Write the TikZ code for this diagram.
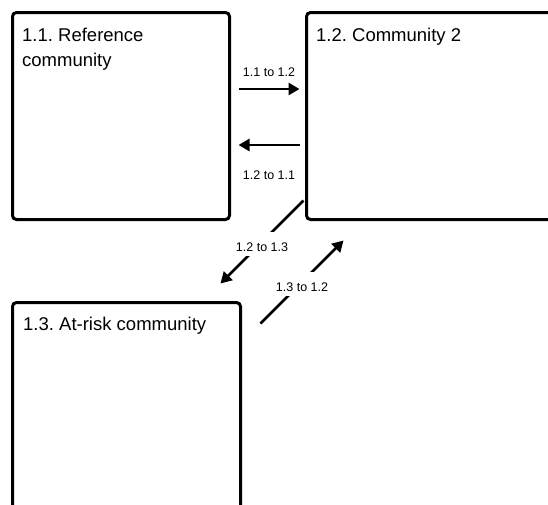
\documentclass[tikz,border=0pt]{standalone}
\usepackage{fontspec}
\setmainfont{Liberation Sans}
\usetikzlibrary{arrows.meta}
\frenchspacing
\tikzset{
	community/.style={shape=rectangle, draw=black, line width=3pt, rounded corners=4pt},
	title/.style={anchor=north west, inner sep=0pt, align=left, font=\fontsize{18.5}{25}\selectfont},
	flow/.style={-{Triangle[length=11pt,width=12pt]}, line width=2.7pt},
	tag/.style={inner sep=0pt, font=\fontsize{12.5}{15}\selectfont},
	gaptag/.style={tag, fill=white, text height=20pt, text depth=4pt}
}
\begin{document}
\begin{tikzpicture}[x=1pt, y=-1pt]
	\useasboundingbox (0,0) rectangle (548,504);
	\clip (0,0) rectangle (548,504);

	\node[community, minimum width=217, minimum height=207] (c1) at (121,116)     {};
	\node[community, minimum width=260, minimum height=207] (c2) at (436.5,116)   {};
	\node[community, minimum width=228, minimum height=230] (c3) at (126.5,417.5) {};

	\node[title] (t1) at ([shift={(11,16.5)}]c1.north west) {1.1. Reference\\community};
	\node[title] (t2) at ([shift={(11,16.5)}]c2.north west) {1.2. Community 2};
	\node[title] (t3) at ([shift={(12,16)}]c3.north west)   {1.3. At-risk community};

	\path [flow] ([shift={(7.5,-27)}]c1.east)  edge node[tag, yshift=17]   {1.1 to 1.2} ([shift={(-5.5,-27)}]c2.west);
	\path [flow] ([shift={(-5.5,29)}]c2.west)  edge node[tag, yshift=-30]  {1.2 to 1.1} ([shift={(7.5,29)}]c1.east);
	\path [flow] ([shift={(-1.5,-20.5)}]c2.south west) edge node[gaptag, yshift=-1.5] {1.2 to 1.3} ([shift={(-21.5,-17.5)}]c3.north east);
	\path [flow] ([shift={(18.5,22.5)}]c3.north east)  edge node[gaptag, yshift=-1.5] {1.3 to 1.2} ([shift={(38.5,19.5)}]c2.south west);
\end{tikzpicture}
\end{document}
